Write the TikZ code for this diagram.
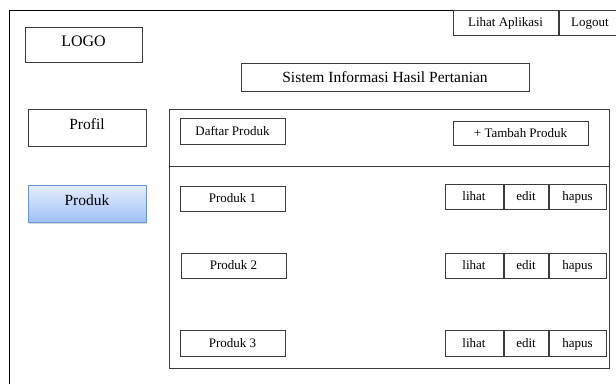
\documentclass[tikz,border=0pt]{standalone}
\usepackage{fontspec}
\setmainfont{Liberation Serif}
\usetikzlibrary{positioning,shadows}
\definecolor{garis}{RGB}{60,60,60}
\definecolor{birua}{RGB}{228,238,253}
\definecolor{birub}{RGB}{158,192,246}
\definecolor{birug}{RGB}{105,150,214}
\newcommand{\ukuran}[1]{\fontsize{#1}{#1}\selectfont}
\begin{document}
\begin{tikzpicture}[x=1pt, y=-1pt,
  kotak/.style={draw=garis, line width=1pt, inner sep=0pt, font=\ukuran{13},
    text height=10pt, text depth=1.4pt},
  menu/.style={kotak, minimum width=118, minimum height=37, font=\ukuran{15.5},
    text height=11pt, text depth=7.8pt},
  item/.style={kotak, minimum width=105, minimum height=25},
  tombol/.style={kotak, minimum height=25}]
\useasboundingbox (0,0) rectangle (616,384);
% bingkai halaman
\draw[line width=1pt] (9,384)--(9,10)--(616,10);
% header
\node[kotak, minimum width=117, minimum height=35, font=\ukuran{16},
  text height=11.5pt, text depth=7.9pt] (logo) at (83.5,44.5) {LOGO};
\node[kotak, minimum width=288, minimum height=28, font=\ukuran{15.5},
  text height=12pt, text depth=1.8pt] (judul) at (385,77) {Sistem Informasi Hasil Pertanian};
\node[kotak, minimum width=105, minimum height=25] (aplikasi) at (505.5,22.5) {Lihat Aplikasi};
\node[kotak, minimum width=62, minimum height=25, right=0pt of aplikasi] (logout) {Logout};
% menu kiri
\node[menu] (profil) at (87,127.5) {Profil};
\node[menu, draw=birug, top color=birua, bottom color=birub,
  drop shadow={opacity=.3, shadow xshift=1pt, shadow yshift=-1.5pt}] (produk) at (87,204) {Produk};
% panel isi
\draw[garis, line width=1pt] (169,109) rectangle (609,368);
\draw[garis, line width=1pt] (169,166)--(609,166);
\node[item, minimum height=26] (daftar) at (232.5,131) {Daftar Produk};
\node[kotak, minimum width=135, minimum height=24] (tambah) at (520.5,133) {+ Tambah Produk};
% baris produk
\node[item] (produk1) at (232.5,198.5) {Produk 1};
\node[tombol, minimum width=58] (lihat1) at (474,196.5) {lihat};
\node[tombol, minimum width=44, right=0pt of lihat1] (edit1) {edit};
\node[tombol, minimum width=57, right=0pt of edit1] (hapus1) {hapus};
\node[item] (produk2) at (233.5,265.5) {Produk 2};
\node[tombol, minimum width=58] (lihat2) at (474,265.5) {lihat};
\node[tombol, minimum width=44, right=0pt of lihat2] (edit2) {edit};
\node[tombol, minimum width=57, right=0pt of edit2] (hapus2) {hapus};
\node[item, minimum height=26] (produk3) at (232.5,343) {Produk 3};
\node[tombol, minimum width=58, minimum height=26] (lihat3) at (474,343) {lihat};
\node[tombol, minimum width=44, minimum height=26, right=0pt of lihat3] (edit3) {edit};
\node[tombol, minimum width=57, minimum height=26, right=0pt of edit3] (hapus3) {hapus};
\end{tikzpicture}
\end{document}
